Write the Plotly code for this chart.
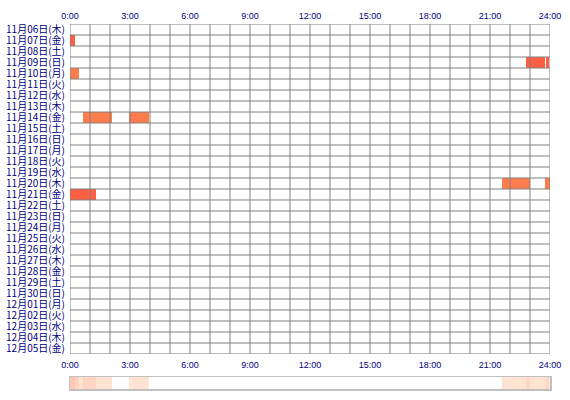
import plotly.graph_objects as go

# ---- data ----
days = ["11月06日(木)", "11月07日(金)", "11月08日(土)", "11月09日(日)", "11月10日(月)",
        "11月11日(火)", "11月12日(水)", "11月13日(木)", "11月14日(金)", "11月15日(土)",
        "11月16日(日)", "11月17日(月)", "11月18日(火)", "11月19日(水)", "11月20日(木)",
        "11月21日(金)", "11月22日(土)", "11月23日(日)", "11月24日(月)", "11月25日(火)",
        "11月26日(水)", "11月27日(木)", "11月28日(金)", "11月29日(土)", "11月30日(日)",
        "12月01日(月)", "12月02日(火)", "12月03日(水)", "12月04日(木)", "12月05日(金)"]

hour_ticks = [0, 3, 6, 9, 12, 15, 18, 21, 24]
hour_labels = ["0:00", "3:00", "6:00", "9:00", "12:00", "15:00", "18:00", "21:00", "24:00"]

seg_day = ["11月07日(金)", "11月09日(日)", "11月09日(日)", "11月10日(月)", "11月14日(金)",
           "11月14日(金)", "11月20日(木)", "11月20日(木)", "11月21日(金)"]
seg_start = [0.0, 22.78, 23.82, 0.0, 0.67, 2.97, 21.58, 23.74, 0.0]
seg_end = [0.27, 23.73, 23.94, 0.43, 2.10, 3.93, 23.00, 24.00, 1.30]

# ---- styles ----
TOMATO = "#ff5f42"
CORAL = "#ff7d4d"
seg_colors = [TOMATO, TOMATO, TOMATO, CORAL, CORAL, CORAL, CORAL, CORAL, TOMATO]
NAVY = "#00007f"
GRID = "#808080"

fig = go.Figure()

fig.add_trace(go.Bar(
    orientation="h",
    y=seg_day,
    x=[e - s for s, e in zip(seg_start, seg_end)],
    base=seg_start,
    width=1.0,
    marker=dict(color=seg_colors, line=dict(width=0)),
    hoverinfo="skip",
    showlegend=False,
    xaxis="x", yaxis="y",
))

# summary strip: number of days active per minute
minutes = list(range(24 * 60))
centers = [(m + 0.5) / 60 for m in minutes]
counts = []
for t in centers:
    active = set()
    for d, s, e in zip(seg_day, seg_start, seg_end):
        if s <= t < e:
            active.add(d)
    counts.append(len(active))

fig.add_trace(go.Heatmap(
    z=[counts], x=centers, y=[0],
    zmin=0, zmax=3,
    colorscale=[[0, "#ffffff"], [1 / 3, "#ffe3d3"], [2 / 3, "#ffd5c4"], [1, "#ffc8b6"]],
    showscale=False, hoverinfo="skip",
    xaxis="x2", yaxis="y2",
))

# grid drawn above the bars
shapes = []
for h in range(0, 25):
    shapes.append(dict(type="line", xref="x", yref="y domain", x0=h, x1=h, y0=0, y1=1,
                       line=dict(color=GRID, width=1), layer="above"))
for i in range(len(days) + 1):
    shapes.append(dict(type="line", xref="x domain", yref="y", x0=0, x1=1,
                       y0=i - 0.5, y1=i - 0.5,
                       line=dict(color=GRID, width=1), layer="above"))

tickfont_x = dict(family="Liberation Sans", size=9, color=NAVY)

fig.update_layout(
    width=570, height=400,
    margin=dict(l=70, r=20, t=24, b=10),
    paper_bgcolor="white", plot_bgcolor="white",
    bargap=0,
    shapes=shapes,
    xaxis=dict(domain=[0, 1], range=[0, 24], side="top", anchor="y", automargin=False,
               tickmode="array", tickvals=hour_ticks, ticktext=hour_labels, tickfont=tickfont_x,
               ticks="outside", ticklen=0, tickcolor="rgba(0,0,0,0)",
               showgrid=False, zeroline=False, showline=False, fixedrange=True),
    yaxis=dict(domain=[0.0984, 1], type="category", categoryorder="array",
               categoryarray=days, range=[len(days) - 0.5, -0.5], anchor="x",
               automargin=False, tickmode="array", tickvals=days, ticktext=days,
               tickfont=dict(family="Noto Sans CJK JP", size=10, color=NAVY),
               ticks="outside", ticklen=2, tickcolor="rgba(0,0,0,0)",
               showgrid=False, zeroline=False, showline=False, fixedrange=True),
    xaxis2=dict(domain=[0, 1], range=[0, 24], side="top", anchor="y2", automargin=False,
                tickmode="array", tickvals=hour_ticks, ticktext=hour_labels, tickfont=tickfont_x,
                ticks="outside", ticklen=4, tickcolor="rgba(0,0,0,0)",
                showgrid=False, zeroline=False, showline=True, mirror=True,
                linecolor="#c0c0c0", linewidth=1.5, fixedrange=True),
    yaxis2=dict(domain=[0.0027, 0.0355], range=[-0.5, 0.5], anchor="x2", automargin=False,
                showticklabels=False, ticks="", showgrid=False, zeroline=False,
                showline=True, mirror=True, linecolor="#c0c0c0", linewidth=1.5,
                fixedrange=True),
)

fig.write_html("out.html", config={"displayModeBar": False, "staticPlot": True},
               post_script="document.body.style.margin='0';")
